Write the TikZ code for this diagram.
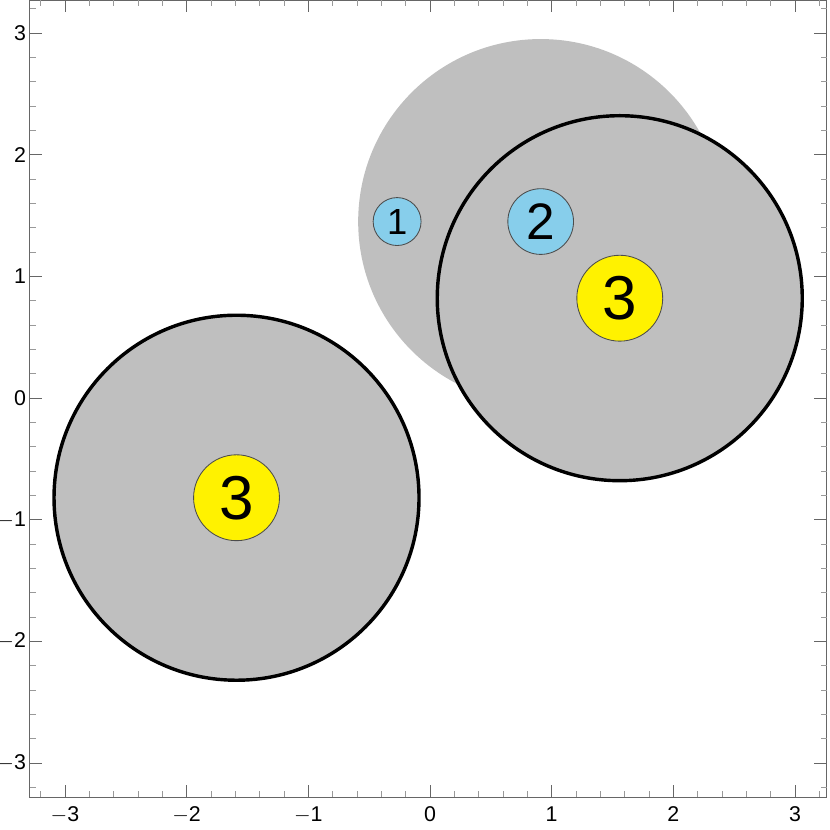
\documentclass[tikz,border=0pt]{standalone}
\usepackage{fontspec}
\setmainfont{Liberation Sans}
\usepackage{tikz}
\usetikzlibrary{decorations.markings,arrows.meta,backgrounds}
\definecolor{skyblue}{HTML}{87CEEB}
\definecolor{edgeblue}{HTML}{4A6A9A}
\definecolor{regiongray}{HTML}{BFBFBF}

\begin{document}
\begin{tikzpicture}[x=2cm,y=2cm,
  vertex/.style={circle, draw=black!70, thin, inner sep=0pt},
  edge/.style={edgeblue, line width=0.5pt, postaction={decorate},
    decoration={markings, mark=at position #1 with {\arrow{Latex[length=10pt,width=7pt]}}}},
  region/.style={fill=regiongray},
  bound/.style={line width=1.6pt}]
\useasboundingbox (-3.534,-3.551) rectangle (3.288,3.271);

% Draw regions
\fill [region] (0.91,1.45) circle (1.5);
\fill [region] (1.56,0.82) circle (1.5);
\fill [region] (-1.59,-0.82) circle (1.5);
\draw [bound] (1.56,0.82) circle (1.5);
\draw [bound] (-1.59,-0.82) circle (1.5);

% Draw frame and ticks
\draw [black!60, line width=0.5pt] (-3.29,-3.28) rectangle (3.26,3.27);
\foreach \t in {-3.2,-3.0,...,3.21} {
  \draw [black!40, line width=0.4pt] (\t,-3.28) -- ++(0,0.05);
  \draw [black!40, line width=0.4pt] (\t,3.27) -- ++(0,-0.05);
  \draw [black!40, line width=0.4pt] (-3.29,\t) -- ++(0.05,0);
  \draw [black!40, line width=0.4pt] (3.26,\t) -- ++(-0.05,0);
}
\foreach \t/\l in {-3/$-$3,-2/$-$2,-1/$-$1,0/0,1/1,2/2,3/3} {
  \draw [black!60, line width=0.4pt] (\t,-3.28) -- ++(0,0.1);
  \draw [black!60, line width=0.4pt] (\t,3.27) -- ++(0,-0.1);
  \draw [black!60, line width=0.4pt] (-3.29,\t) -- ++(0.1,0);
  \draw [black!60, line width=0.4pt] (3.26,\t) -- ++(-0.1,0);
  \node [font=\fontsize{10}{12}\selectfont, below] at (\t,-3.3) {\l};
  \node [font=\fontsize{10}{12}\selectfont, left, inner xsep=1pt] at (-3.30,\t) {\l};
}

% Draw graph
\node [vertex, fill=skyblue, minimum size=0.394*2cm, font=\fontsize{17}{20}\selectfont] (v1) at (-0.27,1.45) {1};
\node [vertex, fill=skyblue, minimum size=0.54*2cm, font=\fontsize{24}{28}\selectfont] (v2) at (0.91,1.45) {2};
\node [vertex, fill=yellow, minimum size=0.706*2cm, font=\fontsize{29}{34}\selectfont] (v3) at (1.56,0.82) {3};
\node [vertex, fill=yellow, minimum size=0.706*2cm, font=\fontsize{29}{34}\selectfont] (v4) at (-1.59,-0.82) {3};
\begin{scope}[on background layer]
\draw [edge=0.66] (v1.center) -- (v2.center);
\draw [edge=0.63] (v2.center) -- (v3.center);
\end{scope}
\end{tikzpicture}
\end{document}
